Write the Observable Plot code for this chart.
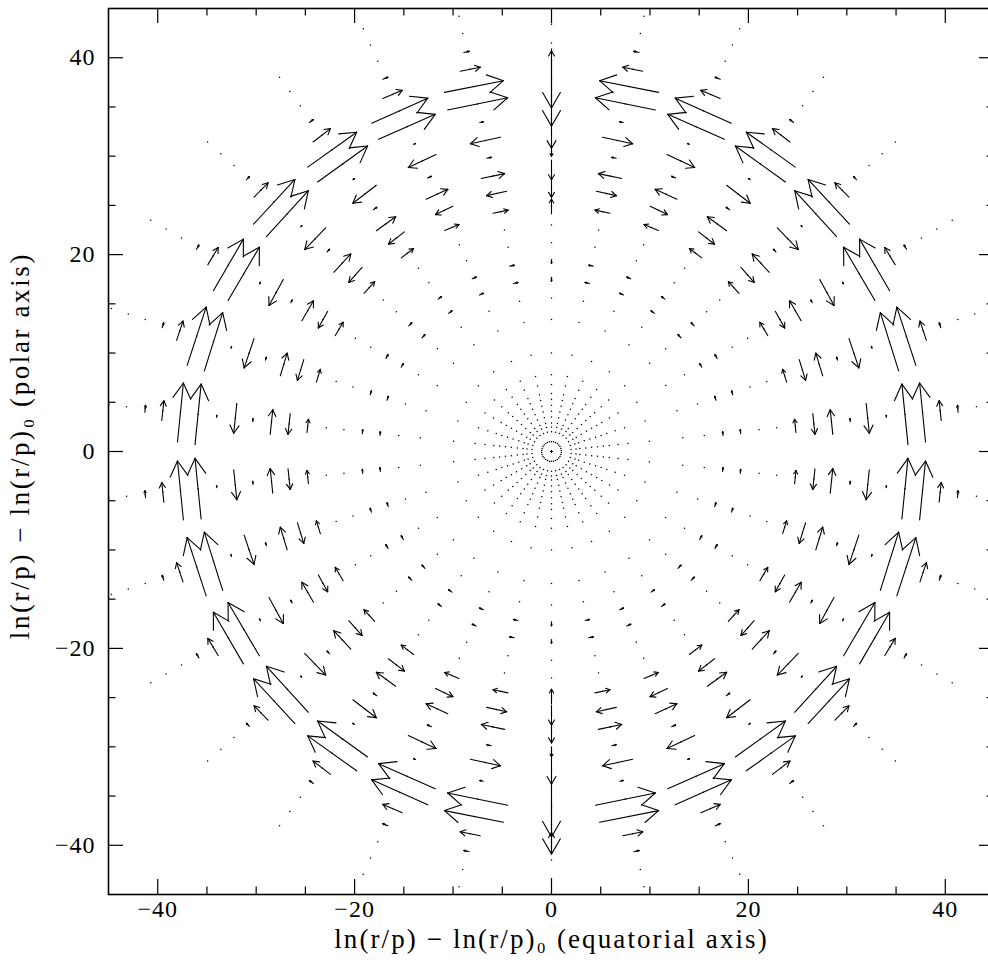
<!DOCTYPE html>
<html><head><meta charset="utf-8">
<script src="https://cdn.jsdelivr.net/npm/d3@7"></script>
<script src="https://cdn.jsdelivr.net/npm/@observablehq/plot@0.6"></script>
<style>
html,body{margin:0;padding:0;background:#fff;overflow:hidden;}
#chart{width:988px;height:965px;overflow:hidden;}
#chart svg{max-width:none!important;width:1000px!important;height:965px!important;}
</style></head><body><div id="chart"></div>
<script>
// 30 rays of the polar grid (degrees)
const rayAngles = [6,18,30,42,54,66,78,90,102,114,126,138,150,162,174,186,198,210,222,234,246,258,270,282,294,306,318,330,342,354];
// radii of the grid points along every ray
const radii = [0, 1.0, 2.0, 2.5, 2.9, 3.5, 4.1, 4.7, 5.3, 5.9, 6.8, 7.8, 10.0, 13.4, 15.6, 17.5, 19.3, 21.2, 23.0, 24.9, 26.8, 28.6, 30.5, 32.3, 34.2, 36.1, 37.9, 39.7, 41.5, 43.4, 45.2, 47.0];
// radii where a visible vector is drawn
const vecRadii = [17.5, 19.3, 21.2, 23.0, 24.9, 26.8, 28.6, 30.5, 32.3, 34.2, 36.1, 37.9, 39.7, 41.5];
// vectors [dx, dy] read in the upper-left quadrant (the field mirrors with dx reversed)
const ray090 = [[0,-0.4],[0,-0.4],[0,0],[0,0],[0,1.5],[0,-2.0],[0,-2.0],[0,-1.0],[0,-3.0],[0,0],[0,-6.1],[0,-6.0],[0,2.0],[0,0]];
const ray102 = [[0.45,0.1],[0.45,0.1],[0,0],[0,0],[1.52,0.32],[-2.03,-0.45],[2.37,0.5],[0.45,0.1],[-3.05,-0.67],[0.35,0.07],[6.09,1.25],[5.99,1.19],[2.03,0.41],[0.55,0.12]];
const ray114 = [[0.4,0.18],[0.4,0.18],[0,0],[0,0],[1.45,0.6],[-1.76,-0.84],[2.2,1.0],[0.4,0.18],[-2.81,-1.32],[0.2,0.09],[5.75,2.54],[5.69,2.54],[1.97,0.84],[0.5,0.22]];
const ray126 = [[0.35,0.26],[0.35,0.26],[0,0],[0,0],[1.25,0.95],[-1.62,-1.25],[1.96,1.42],[0.35,0.26],[-2.38,-1.83],[0.15,0.1],[5.08,3.65],[4.97,3.55],[1.77,1.36],[0.4,0.3]];
const ray138 = [[0.3,0.33],[0.3,0.33],[0,0],[0,0],[1.08,1.18],[-1.35,-1.52],[1.73,1.86],[0.25,0.28],[-2.13,-2.2],[0.1,0.12],[4.26,4.67],[4.2,4.54],[1.42,1.46],[0.3,0.33]];
const ray150 = [[0.22,0.38],[0.22,0.38],[0,0],[0,0],[0.8,1.35],[-0.95,-1.7],[1.18,2.03],[0.15,0.26],[-1.45,-2.64],[0.1,0.17],[3.18,5.41],[3.05,5.25],[1.05,1.73],[0.25,0.43]];
const ray162 = [[0.12,0.4],[0.12,0.4],[0,0],[0,0],[0.4,1.3],[-0.65,-2.1],[0.7,2.3],[0.08,0.3],[-1.0,-2.98],[0.05,0.2],[1.86,5.92],[1.93,5.92],[0.65,1.95],[0.16,0.5]];
const ray174 = [[0.04,0.4],[0.04,0.4],[0,0],[0,0],[0.14,1.35],[-0.22,-2.1],[0.26,2.5],[0.03,0.3],[-0.32,-3.05],[0.02,0.2],[0.62,6.15],[0.6,6.0],[0.21,2.0],[0.07,0.7]];
// axis ticks
const majorTicks = [-40, -20, 0, 20, 40];
const minorTicks = [-35, -30, -25, -15, -10, -5, 5, 10, 15, 25, 30, 35];
const xTitle = "ln(r/p) \u2212 ln(r/p)\u2080 (equatorial axis)";
const yTitle = "ln(r/p) \u2212 ln(r/p)\u2080 (polar axis)";

const quadrant = new Map([[90, ray090], [102, ray102], [114, ray114], [126, ray126], [138, ray138], [150, ray150], [162, ray162], [174, ray174]]);
const LIM = 45;
const points = [];
const vecs = [];
for (const a of rayAngles) {
  let base, sx;
  if (a >= 90 && a <= 180) { base = a; sx = 1; }
  else if (a < 90) { base = 180 - a; sx = -1; }
  else if (a <= 270) { base = 360 - a; sx = -1; }
  else { base = a - 180; sx = 1; }
  const t = a * Math.PI / 180, c = Math.cos(t), s = Math.sin(t);
  for (const r of radii) points.push({x: r * c, y: r * s});
  const vs = quadrant.get(base);
  vecRadii.forEach((r, i) => {
    const [dx, dy] = vs[i];
    if (dx === 0 && dy === 0) return;
    vecs.push({x: r * c, y: r * s, dx: sx * dx, dy});
  });
}
const inside = (p) => Math.abs(p.x) <= LIM && Math.abs(p.y) <= LIM;
const dots = points.filter(inside);

// arrow segments: shaft + two open head wings
const HEAD = 0.3, WING = 30 * Math.PI / 180;
const segs = [];
for (const v of vecs) {
  const x1 = v.x - v.dx / 2, y1 = v.y - v.dy / 2, x2 = v.x + v.dx / 2, y2 = v.y + v.dy / 2;
  segs.push({x1, y1, x2, y2});
  const L = Math.hypot(v.dx, v.dy), bx = -v.dx / L, by = -v.dy / L, wl = HEAD * L;
  for (const sg of [1, -1]) {
    const ca = Math.cos(sg * WING), sa = Math.sin(sg * WING);
    segs.push({x1: x2, y1: y2, x2: x2 + wl * (bx * ca - by * sa), y2: y2 + wl * (bx * sa + by * ca)});
  }
}

const PX = 886 / 90; // pixels per unit
const MAJ = 15 / PX, MIN = 7.5 / PX;
const fmt = d => d < 0 ? "\u2212" + (-d) : String(d);
const tickRules = [];
for (const [list, len] of [[majorTicks, MAJ], [minorTicks, MIN]]) {
  tickRules.push(Plot.ruleX(list, {x: d => d, y1: -LIM, y2: -LIM + len, stroke: "#000", strokeWidth: 1.2}));
  tickRules.push(Plot.ruleX(list, {x: d => d, y1: LIM, y2: LIM - len, stroke: "#000", strokeWidth: 1.2}));
  tickRules.push(Plot.ruleY(list, {y: d => d, x1: -LIM, x2: -LIM + len, stroke: "#000", strokeWidth: 1.2}));
  tickRules.push(Plot.ruleY(list, {y: d => d, x1: LIM, x2: LIM - len, stroke: "#000", strokeWidth: 1.2}));
}

const FONT = "Liberation Serif, DejaVu Serif, serif";
const chart = Plot.plot({
  width: 1000, height: 965,
  marginLeft: 108, marginRight: 6, marginTop: 8, marginBottom: 71,
  x: {domain: [-LIM, LIM], axis: null},
  y: {domain: [-LIM, LIM], axis: null},
  style: {fontFamily: FONT, background: "#fff"},
  marks: [
    Plot.dot(dots, {x: "x", y: "y", r: 0.75, fill: "#000", stroke: null}),
    Plot.link(segs, {x1: "x1", y1: "y1", x2: "x2", y2: "y2", stroke: "#000", strokeWidth: 1.1, strokeLinecap: "round"}),
    ...tickRules,
    Plot.frame({stroke: "#000", strokeWidth: 1.6}),
    Plot.text(majorTicks, {x: d => d, frameAnchor: "bottom", dy: 22, text: fmt, fontSize: 24, fill: "#000"}),
    Plot.text(majorTicks, {y: d => d, frameAnchor: "left", dx: -13, textAnchor: "end", text: fmt, fontSize: 24, fill: "#000"}),
    Plot.text([xTitle], {frameAnchor: "bottom", dy: 53, textAnchor: "middle", text: d => d, fontSize: 27, fill: "#000"}),
    Plot.text([yTitle], {y: () => 0.6, frameAnchor: "left", dx: -88, rotate: -90, textAnchor: "middle", text: d => d, fontSize: 27, fill: "#000"})
  ]
});
// widen the axis titles (the original lettering is broad)
chart.querySelectorAll("text").forEach(t => {
  if (t.textContent === xTitle) t.style.letterSpacing = "2.1px";
  else if (t.textContent === yTitle) t.style.letterSpacing = "2.6px";
  else if (/^\u2212?\d+$/.test(t.textContent)) t.style.letterSpacing = "1px";
});
document.getElementById("chart").appendChild(chart);
</script></body></html>
